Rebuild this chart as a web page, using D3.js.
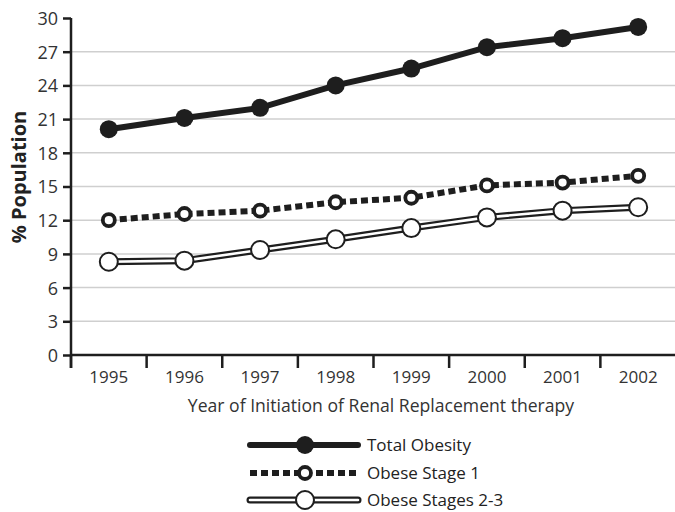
<!DOCTYPE html>
<html lang="en">
<head>
<meta charset="utf-8">
<title>obesity at start of RRT</title>
<script src="https://cdn.jsdelivr.net/npm/d3@7"></script>
<style>
  body{margin:0;background:#fff;font-family:"Open Sans",sans-serif;}
  #chart svg{display:block;}
</style>
</head>
<body>
<div id="chart"></div>
<script>
// values
var years = ["1995","1996","1997","1998","1999","2000","2001","2002"]
var totalObesity = [20.1, 21.1, 22.0, 24.0, 25.5, 27.4, 28.2, 29.2]
var obeseStage1 = [12.0, 12.55, 12.85, 13.6, 14.0, 15.1, 15.35, 15.95]
var obeseStage23 = [8.3, 8.4, 9.35, 10.3, 11.3, 12.25, 12.85, 13.15]
var yTicks = [0, 3, 6, 9, 12, 15, 18, 21, 24, 27, 30]
var legendNames = ["Total Obesity", "Obese Stage 1", "Obese Stages 2-3"]

var w = 675
var h = 512
// plot box (note: "top" is a reserved window property, so pX names)
var pLeft = 71, pRight = 676, pTop = 18, pBottom = 355
var ink = "#1e1e1e"

var svg = d3.select("#chart").append("svg")
    .attr("width", w)
    .attr("height", h)

var xScale = d3.scaleBand().domain(years).range([pLeft, pRight]).padding(0)
var yScale = d3.scaleLinear().domain([0, 30]).range([pBottom, pTop])
var cx = function(d, i){ return xScale(years[i]) + xScale.bandwidth() / 2 }

// gridlines
svg.append("g")
   .selectAll("line")
   .data(yTicks.filter(function(t){ return t > 0 && t < 30 }))
   .enter()
   .append("line")
   .attr("x1", pLeft)
   .attr("x2", w)
   .attr("y1", function(d){ return yScale(d) })
   .attr("y2", function(d){ return yScale(d) })
   .attr("stroke", "#cfcfcf")
   .attr("stroke-width", 1.5)

// y axis
var yAxis = svg.append("g")
   .attr("transform", "translate(" + pLeft + ",0)")
   .call(d3.axisLeft(yScale).tickValues(yTicks).tickSize(8).tickPadding(5))
yAxis.select(".domain").attr("stroke", ink).attr("stroke-width", 2.5)
     .attr("d", "M0," + pTop + "V" + (pBottom + 13))
yAxis.selectAll(".tick line").attr("stroke", ink).attr("stroke-width", 2.5)
yAxis.selectAll(".tick text")
     .attr("font-family", "Open Sans")
     .attr("font-size", "18px")
     .attr("fill", "#333")
     .attr("dy", "0.36em")

// x axis: ticks sit on the band edges
var xAxis = svg.append("g").attr("transform", "translate(0," + pBottom + ")")
xAxis.append("line")
     .attr("x1", pLeft).attr("x2", w)
     .attr("stroke", ink).attr("stroke-width", 2.5)
xAxis.selectAll(".edge")
     .data(years)
     .enter()
     .append("line")
     .attr("class", "edge")
     .attr("x1", function(d){ return xScale(d) })
     .attr("x2", function(d){ return xScale(d) })
     .attr("y1", 0)
     .attr("y2", 13)
     .attr("stroke", ink)
     .attr("stroke-width", 2.5)
xAxis.selectAll("text")
     .data(years)
     .enter()
     .append("text")
     .attr("x", function(d){ return xScale(d) + xScale.bandwidth() / 2 })
     .attr("y", 28)
     .attr("text-anchor", "middle")
     .attr("font-family", "Open Sans")
     .attr("font-size", "17px")
     .attr("fill", "#333")
     .text(function(d){ return d })

// axis titles
svg.append("text")
   .attr("x", 381)
   .attr("y", 412)
   .attr("text-anchor", "middle")
   .attr("font-family", "Open Sans")
   .attr("font-size", "17.6px")
   .attr("fill", "#333")
   .text("Year of Initiation of Renal Replacement therapy")

svg.append("text")
   .attr("transform", "translate(26,177) rotate(-90)")
   .attr("text-anchor", "middle")
   .attr("font-family", "Open Sans")
   .attr("font-weight", "bold")
   .attr("font-size", "20px")
   .attr("fill", "#222")
   .text("% Population")

var line = d3.line()
    .x(cx)
    .y(function(d){ return yScale(d) })

// Obese Stages 2-3: double line
svg.append("path").datum(obeseStage23)
   .attr("d", line).attr("fill", "none")
   .attr("stroke", ink).attr("stroke-width", 7)
svg.append("path").datum(obeseStage23)
   .attr("d", line).attr("fill", "none")
   .attr("stroke", "#fff").attr("stroke-width", 2.6)
svg.selectAll(".m3")
   .data(obeseStage23)
   .enter()
   .append("circle")
   .attr("class", "m3")
   .attr("cx", cx)
   .attr("cy", function(d){ return yScale(d) })
   .attr("r", 9)
   .attr("fill", "#fff")
   .attr("stroke", ink)
   .attr("stroke-width", 2)

// Obese Stage 1: heavy dashes
svg.append("path").datum(obeseStage1)
   .attr("d", line).attr("fill", "none")
   .attr("stroke", ink).attr("stroke-width", 6)
   .attr("stroke-dasharray", "7,4")
svg.selectAll(".m1")
   .data(obeseStage1)
   .enter()
   .append("circle")
   .attr("class", "m1")
   .attr("cx", cx)
   .attr("cy", function(d){ return yScale(d) })
   .attr("r", 6)
   .attr("fill", "#fff")
   .attr("stroke", ink)
   .attr("stroke-width", 3.8)

// Total Obesity: solid
svg.append("path").datum(totalObesity)
   .attr("d", line).attr("fill", "none")
   .attr("stroke", ink).attr("stroke-width", 6)
svg.selectAll(".m0")
   .data(totalObesity)
   .enter()
   .append("circle")
   .attr("class", "m0")
   .attr("cx", cx)
   .attr("cy", function(d){ return yScale(d) })
   .attr("r", 9)
   .attr("fill", ink)

// legend
var lx1 = 250, lx2 = 358, lm = 305
var rows = [445, 473, 500]
var lg = svg.append("g")

lg.append("line").attr("x1", lx1).attr("x2", lx2).attr("y1", rows[0]).attr("y2", rows[0])
  .attr("stroke", ink).attr("stroke-width", 6).attr("stroke-linecap", "round")
lg.append("circle").attr("cx", lm).attr("cy", rows[0]).attr("r", 9).attr("fill", ink)

lg.append("line").attr("x1", lx1).attr("x2", lx2).attr("y1", rows[1]).attr("y2", rows[1])
  .attr("stroke", ink).attr("stroke-width", 6).attr("stroke-dasharray", "7,4")
lg.append("circle").attr("cx", lm).attr("cy", rows[1]).attr("r", 6)
  .attr("fill", "#fff").attr("stroke", ink).attr("stroke-width", 3.8)

lg.append("line").attr("x1", lx1).attr("x2", lx2).attr("y1", rows[2]).attr("y2", rows[2])
  .attr("stroke", ink).attr("stroke-width", 7).attr("stroke-linecap", "round")
lg.append("line").attr("x1", lx1).attr("x2", lx2).attr("y1", rows[2]).attr("y2", rows[2])
  .attr("stroke", "#fff").attr("stroke-width", 2.6).attr("stroke-linecap", "round")
lg.append("circle").attr("cx", lm).attr("cy", rows[2]).attr("r", 9)
  .attr("fill", "#fff").attr("stroke", ink).attr("stroke-width", 2)

lg.selectAll("text")
  .data(legendNames)
  .enter()
  .append("text")
  .attr("x", 367)
  .attr("y", function(d, i){ return rows[i] })
  .attr("dy", "0.35em")
  .attr("font-family", "Open Sans")
  .attr("font-size", "17px")
  .attr("fill", "#222")
  .text(function(d){ return d })
</script>
</body>
</html>
